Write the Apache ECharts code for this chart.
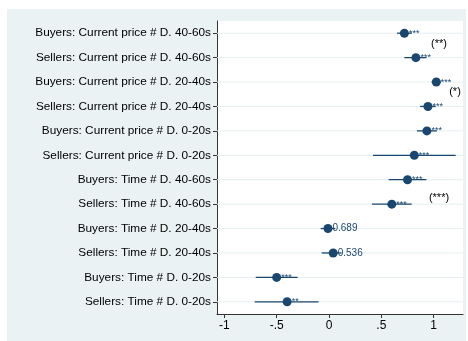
<!DOCTYPE html>
<html>
<head>
<meta charset="utf-8">
<script src="https://cdn.jsdelivr.net/npm/echarts@6/dist/echarts.min.js"></script>
<style>
  html, body { margin: 0; padding: 0; background: #ffffff; }
  #chart { width: 468px; height: 341px; }
</style>
</head>
<body>
<div id="chart"></div>
<script>
// Coefficient plot: interaction estimates with 95% confidence intervals
const categories = [
  'Buyers: Current price # D. 40-60s',
  'Sellers: Current price # D. 40-60s',
  'Buyers: Current price # D. 20-40s',
  'Sellers: Current price # D. 20-40s',
  'Buyers: Current price # D. 0-20s',
  'Sellers: Current price # D. 0-20s',
  'Buyers: Time # D. 40-60s',
  'Sellers: Time # D. 40-60s',
  'Buyers: Time # D. 20-40s',
  'Sellers: Time # D. 20-40s',
  'Buyers: Time # D. 0-20s',
  'Sellers: Time # D. 0-20s'
];
const coef   = [0.72, 0.83, 1.025, 0.945, 0.935, 0.815, 0.75, 0.60, -0.01, 0.04, -0.50, -0.40];
const ciLow  = [0.65, 0.72, 0.98, 0.87, 0.84, 0.42, 0.57, 0.41, -0.08, -0.07, -0.70, -0.71];
const ciHigh = [0.79, 0.93, 1.07, 1.02, 1.03, 1.21, 0.93, 0.79, 0.06, 0.12, -0.30, -0.10];
const sigLabels = ['***', '***', '***', '***', '***', '***', '***', '***', '0.689', '0.536', '***', '**'];

const xTickValues = [-1, -0.5, 0, 0.5, 1];
const xTickLabels = ['-1', '-.5', '0', '.5', '1'];

// Difference-test markers placed between pairs of rows
const pairNotes = [
  { text: '(**)',  x: 439, y: 44 },
  { text: '(*)',   x: 455, y: 92 },
  { text: '(***)', x: 439, y: 198 }
];

const navy = '#1a476f';
const font = '"Liberation Sans", Arial, Helvetica, sans-serif';

const chart = echarts.init(document.getElementById('chart'));

const ciData = categories.map((c, i) => [ciLow[i], ciHigh[i], i]);
const pointData = categories.map((c, i) => ({
  value: [coef[i], c],
  label: { formatter: sigLabels[i], fontSize: /^\d/.test(sigLabels[i]) ? 10 : 9 }
}));

chart.setOption({
  animation: false,
  backgroundColor: '#ffffff',
  graphic: [
    {
      type: 'rect', z: -100, silent: true,
      shape: { x: 7, y: 9, width: 459, height: 332 },
      style: { fill: '#eaf2f3' }
    }
  ].concat(pairNotes.map(n => ({
    type: 'text', z: 100, silent: true,
    x: n.x, y: n.y,
    style: { text: n.text, fill: '#000', font: '11px ' + font, align: 'center', verticalAlign: 'middle' }
  }))),
  grid: {
    left: 217, right: 5, top: 21, bottom: 27,
    show: true, backgroundColor: '#ffffff', borderWidth: 0
  },
  xAxis: {
    type: 'value', min: -1.07, max: 1.28,
    axisLine: { show: true, onZero: false, lineStyle: { color: '#333', width: 1 } },
    axisTick: { show: true, length: 4, lineStyle: { color: '#333' }, customValues: xTickValues },
    axisLabel: {
      customValues: xTickValues, color: '#000', fontSize: 12, fontFamily: font, margin: 6,
      formatter: v => xTickLabels[xTickValues.indexOf(v)] ?? ''
    },
    splitLine: { show: false }
  },
  yAxis: {
    type: 'category', data: categories, inverse: true, boundaryGap: true,
    axisLine: { show: true, onZero: false, lineStyle: { color: '#333', width: 1 } },
    axisTick: { show: true, alignWithLabel: true, length: 4, lineStyle: { color: '#333' } },
    axisLabel: { color: '#000', fontSize: 11.8, fontFamily: font, margin: 6 },
    splitLine: { show: false }
  },
  series: [
    {
      // row gridline plus confidence interval for each term
      type: 'custom', z: 2, silent: true,
      data: ciData,
      encode: { x: [0, 1], y: 2 },
      renderItem: (params, api) => {
        const row = categories[api.value(2)];
        const p0 = api.coord([api.value(0), row]);
        const p1 = api.coord([api.value(1), row]);
        const cs = params.coordSys;
        return {
          type: 'group',
          children: [
            {
              type: 'line', z2: 0,
              shape: { x1: cs.x, y1: p0[1], x2: cs.x + cs.width, y2: p0[1] },
              style: { stroke: '#e6eef0', lineWidth: 1 }
            },
            {
              type: 'line', z2: 1,
              shape: { x1: p0[0], y1: p0[1], x2: p1[0], y2: p1[1] },
              style: { stroke: navy, lineWidth: 1.3 }
            }
          ]
        };
      }
    },
    {
      // point estimates
      type: 'scatter', z: 3,
      symbol: 'circle', symbolSize: 9,
      itemStyle: { color: navy, opacity: 1 },
      label: {
        show: true, position: 'right', distance: 0,
        color: navy, fontFamily: font
      },
      data: pointData
    }
  ]
});
</script>
</body>
</html>
